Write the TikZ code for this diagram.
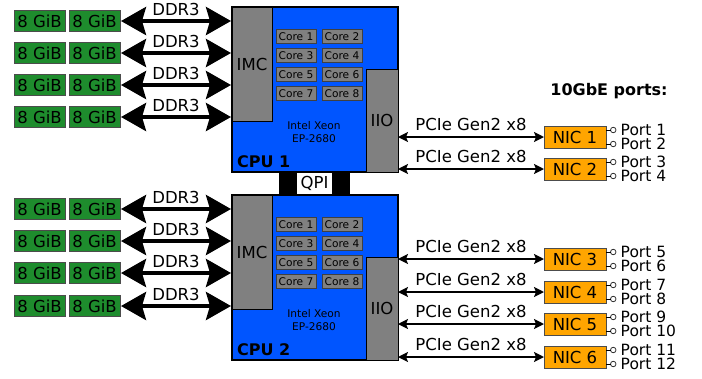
\documentclass[tikz,border=0pt]{standalone}
\usepackage{fontspec}
\setmainfont{DejaVu Sans}
\usepackage{tikz}
\usetikzlibrary{positioning}
\usetikzlibrary{arrows.meta}
\definecolor{cpublue}{HTML}{0055FF}
\definecolor{dimmgreen}{HTML}{1E8C2D}
\definecolor{nicorange}{HTML}{FFA500}
\definecolor{blockgray}{HTML}{808080}

\begin{document}
\begin{tikzpicture}[
    x=1pt, y=-1pt,
    font=\fontsize{16.5}{18}\selectfont,
    cpu/.style={rectangle, draw, line width=1.5pt, fill=cpublue, minimum width=166, minimum height=165, anchor=north west, inner sep=0, outer sep=0},
    block/.style={rectangle, draw, line width=0.8pt, fill=blockgray, inner sep=0, outer sep=0},
    core/.style={block, draw=black!75, minimum width=40, minimum height=14, font=\fontsize{10.6}{12}\selectfont},
    dimm/.style={rectangle, draw=black!70, line width=0.8pt, fill=dimmgreen, minimum width=51, minimum height=21, inner sep=0, outer sep=0},
    nic/.style={rectangle, draw=black!70, line width=0.8pt, fill=nicorange, minimum width=62, minimum height=22, inner sep=0, outer sep=0},
    port/.style={circle, draw=black!80, line width=0.8pt, fill=white, minimum size=5.5, inner sep=0, outer sep=0},
    ddr/.style={{Stealth[length=25pt,width=28pt,inset=4pt]}-{Stealth[length=25pt,width=28pt,inset=4pt]}, line width=4pt, shorten <=1pt, shorten >=1pt},
    pcie/.style={{Stealth[length=10pt,width=10pt,inset=2pt]}-{Stealth[length=10pt,width=10pt,inset=2pt]}, line width=1.6pt},
    lbl/.style={above=#1, inner sep=0},
    lbl/.default=5pt
]
\useasboundingbox (0,0) rectangle (702,378);

% CPUs
\foreach \c/\o in {1/0, 2/188} {
  \node[cpu] (cpu\c) at (232,7+\o) {};
  \node[block, anchor=north west, minimum width=40, minimum height=114] (imc\c) at (cpu\c.north west) {IMC};
  \node[block, anchor=south east, minimum width=32, minimum height=103] (iio\c) at (cpu\c.south east) {IIO};
  \foreach \k/\x/\y in {1/296/36.5, 2/342/36.5, 3/296/55.5, 4/342/55.5, 5/296/74.5, 6/342/74.5, 7/296/93.5, 8/342/93.5}
    \node[core] (core\c\k) at (\x,\y+\o) {Core \k};
  \node[font=\fontsize{10.6}{13}\selectfont, align=center] (model\c) at (314,132.5+\o) {Intel Xeon\\EP-2680};
  \node[font=\fontsize{16}{18}\selectfont\bfseries, anchor=base west, inner sep=0] (name\c) at (237,167+\o) {CPU \c};
}

% QPI link
\node[fill=black, minimum width=71, minimum height=21.5, inner sep=0, outer sep=0] (qpibar) at (314.5,183.5) {};
\node[fill=white, minimum width=35, minimum height=21.5, inner sep=0] (qpi) at (qpibar) {QPI};

% Memory
\foreach \r/\y in {1/21, 2/53, 3/85, 4/117, 5/209, 6/241, 7/273, 8/306} {
  \pgfmathtruncatemacro{\c}{\r>4 ? 2 : 1}
  \node[dimm] (dimm\r a) at (39.5,\y) {8 GiB};
  \node[dimm] (dimm\r b) at (94.5,\y) {8 GiB};
  \draw[ddr] (dimm\r b.east) -- (dimm\r b.east -| imc\c.west) node[midway, lbl=3pt] {DDR3};
}

% NICs and ports
\foreach \n/\y/\c in {1/137/1, 2/169/1, 3/259/2, 4/292/2, 5/324/2, 6/357/2} {
  \pgfmathtruncatemacro{\pa}{2*\n-1}
  \pgfmathtruncatemacro{\pb}{2*\n}
  \node[nic] (nic\n) at (575,\y) {NIC \n};
  \draw[pcie] (nic\n.west -| iio\c.east) -- (nic\n.west) node[midway, lbl] {PCIe Gen2 x8};
  \node[port, right=4.5pt of nic\n.east, yshift=7pt] (port\pa) {};
  \node[port, right=4.5pt of nic\n.east, yshift=-7pt] (port\pb) {};
  \draw[line width=0.8pt] (nic\n.east |- port\pa) -- (port\pa);
  \draw[line width=0.8pt] (nic\n.east |- port\pb) -- (port\pb);
  \node[right=4.5pt of port\pa, inner sep=0, font=\fontsize{15.5}{17}\selectfont] {Port \pa};
  \node[right=4.5pt of port\pb, inner sep=0, font=\fontsize{15.5}{17}\selectfont] {Port \pb};
}

% Annotations
\node[font=\fontsize{16}{18}\selectfont\bfseries] (ports) at (609,91) {10GbE ports:};

\end{tikzpicture}
\end{document}
